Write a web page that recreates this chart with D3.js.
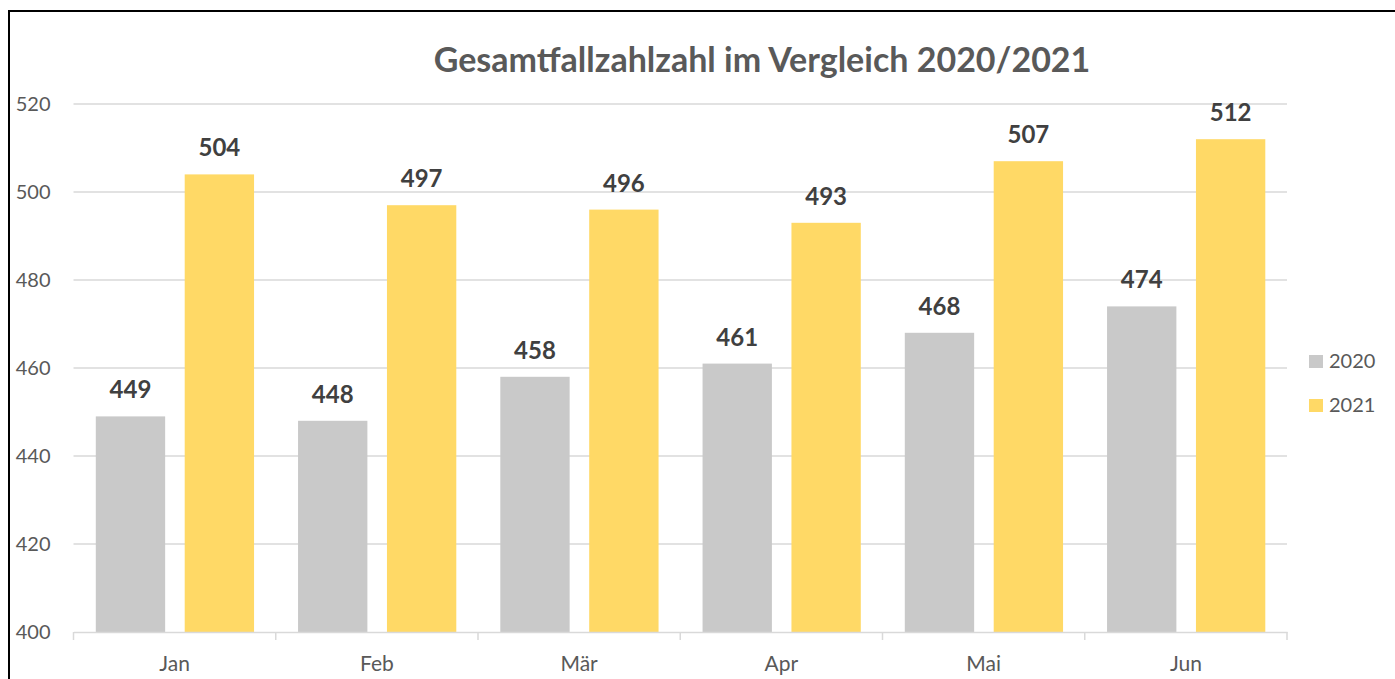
<!DOCTYPE html>
<html>
<head>
<meta charset="utf-8">
<script src="https://cdn.jsdelivr.net/npm/d3@7"></script>
<style>
  body { margin: 0; background: #fff; }
  svg { display: block; font-family: Lato, "Open Sans", sans-serif; }
</style>
</head>
<body>
<svg id="chart" width="1395" height="679"></svg>
<script>
// data
var months = ["Jan", "Feb", "Mär", "Apr", "Mai", "Jun"];
var series = ["2020", "2021"];
var values2020 = [449, 448, 458, 461, 468, 474];
var values2021 = [504, 497, 496, 493, 507, 512];
var yTicks = [400, 420, 440, 460, 480, 500, 520];

var colors = {"2020": "#c9c9c9", "2021": "#ffd966"};

var svg = d3.select("#chart");

// frame
svg.append("rect")
    .attr("x", 9).attr("y", 11)
    .attr("width", 1400).attr("height", 700)
    .attr("fill", "none")
    .attr("stroke", "#000")
    .attr("stroke-width", 2);

var plotLeft = 73.5, plotRight = 1287, plotTop = 104, plotBottom = 632;

var x0 = d3.scaleBand().domain(months).range([plotLeft, plotRight]);
var x1 = d3.scaleBand().domain(series)
    .range([22.3, x0.bandwidth() - 21.7])
    .paddingInner(0.22);
var y = d3.scaleLinear().domain([400, 520]).range([plotBottom, plotTop]);

// gridlines
svg.append("g").selectAll("line")
    .data(yTicks.slice(1))
    .enter().append("line")
    .attr("x1", plotLeft).attr("x2", plotRight)
    .attr("y1", function(d) { return y(d); })
    .attr("y2", function(d) { return y(d); })
    .attr("stroke", "#d9d9d9")
    .attr("stroke-width", 1.5);

// y axis labels
var yAxis = svg.append("g")
    .attr("transform", "translate(" + (plotLeft - 20) + ",0)")
    .call(d3.axisLeft(y).tickValues(yTicks).tickSize(0).tickPadding(3));
yAxis.select(".domain").remove();
yAxis.selectAll("text")
    .attr("font-size", 20)
    .attr("font-family", "Lato, sans-serif")
    .attr("fill", "#595959");

// bars
var rows = months.map(function(m, i) {
    return {month: m, vals: [{s: "2020", v: values2020[i]}, {s: "2021", v: values2021[i]}]};
});

var groups = svg.append("g").selectAll("g")
    .data(rows)
    .enter().append("g")
    .attr("transform", function(d) { return "translate(" + x0(d.month) + ",0)"; });

groups.selectAll("rect")
    .data(function(d) { return d.vals; })
    .enter().append("rect")
    .attr("x", function(d) { return x1(d.s); })
    .attr("width", x1.bandwidth())
    .attr("y", function(d) { return y(d.v); })
    .attr("height", function(d) { return plotBottom - y(d.v); })
    .attr("fill", function(d) { return colors[d.s]; });

groups.selectAll("text")
    .data(function(d) { return d.vals; })
    .enter().append("text")
    .attr("x", function(d) { return x1(d.s) + x1.bandwidth() / 2; })
    .attr("y", function(d) { return y(d.v) - 18; })
    .attr("text-anchor", "middle")
    .attr("font-size", 24)
    .attr("font-weight", "bold")
    .attr("fill", "#404040")
    .text(function(d) { return d.v; });

// x axis
var xAxis = svg.append("g")
    .attr("transform", "translate(0," + plotBottom + ")")
    .call(d3.axisBottom(x0).tickSize(0).tickPadding(24));
xAxis.select(".domain").attr("stroke", "#d9d9d9").attr("stroke-width", 1.5);
xAxis.selectAll("text")
    .attr("font-size", 21)
    .attr("font-family", "Lato, sans-serif")
    .attr("fill", "#595959");
svg.append("g").selectAll("line")
    .data(months.concat(["end"]))
    .enter().append("line")
    .attr("x1", function(d) { return d === "end" ? plotRight : x0(d); })
    .attr("x2", function(d) { return d === "end" ? plotRight : x0(d); })
    .attr("y1", plotBottom).attr("y2", plotBottom + 8)
    .attr("stroke", "#d9d9d9")
    .attr("stroke-width", 1.5);

// title
svg.append("text")
    .attr("x", 762).attr("y", 72)
    .attr("text-anchor", "middle")
    .attr("font-size", 34)
    .attr("font-weight", "bold")
    .attr("fill", "#595959")
    .text("Gesamtfallzahlzahl im Vergleich 2020/2021");

// legend
var legend = svg.append("g").selectAll("g")
    .data(series)
    .enter().append("g")
    .attr("transform", function(d, i) { return "translate(1309," + (355 + i * 44) + ")"; });
legend.append("rect")
    .attr("width", 14).attr("height", 13)
    .attr("fill", function(d) { return colors[d]; });
legend.append("text")
    .attr("x", 20).attr("y", 13)
    .attr("font-size", 20)
    .attr("fill", "#595959")
    .text(function(d) { return d; });
</script>
</body>
</html>
